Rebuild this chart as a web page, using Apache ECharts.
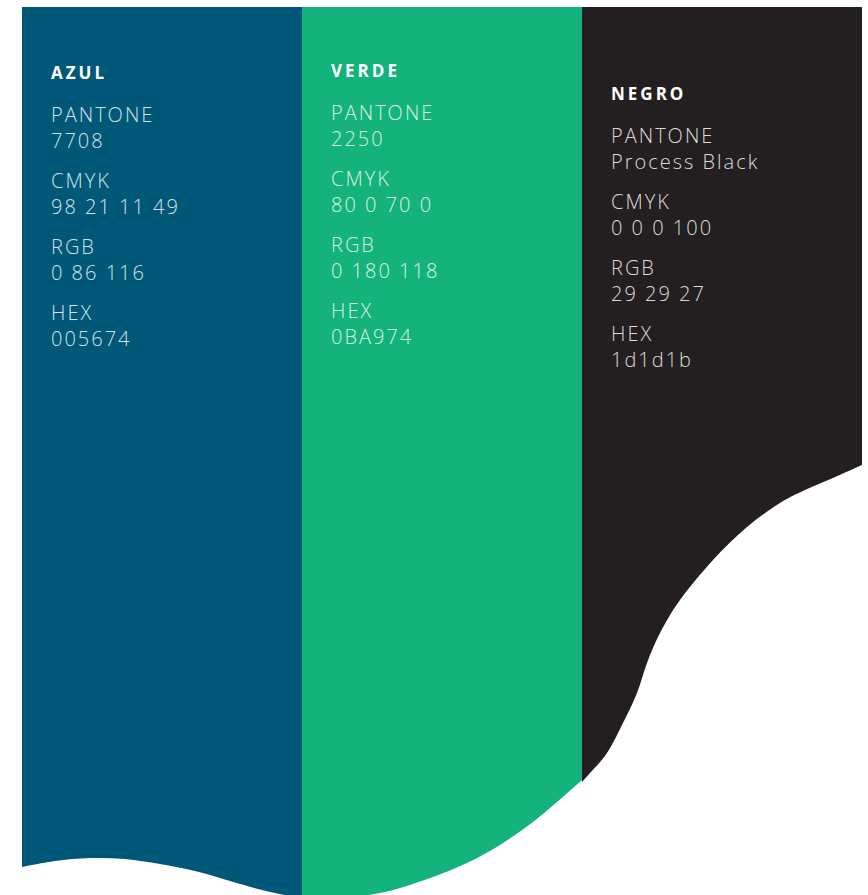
<!DOCTYPE html>
<html>
<head>
<meta charset="utf-8">
<script src="https://cdn.jsdelivr.net/npm/echarts@6/dist/echarts.min.js"></script>
<style>
  html, body { margin: 0; padding: 0; background: #ffffff; }
  #chart { width: 868px; height: 895px; }
  #chart svg text { letter-spacing: 2px; }
  #chart svg text[style*="bold"], #chart svg text[font-weight="bold"] { letter-spacing: 3px; }
</style>
</head>
<body>
<div id="chart"></div>
<script>
// ---- data ----
const swatchNames = ['AZUL', 'VERDE', 'NEGRO'];
const swatchColors = ['#005878', '#13b37b', '#231f20'];
const fieldLabels = ['PANTONE', 'CMYK', 'RGB', 'HEX'];
const pantoneValues = ['7708', '2250', 'Process Black'];
const cmykValues = ['98 21 11 49', '80 0 70 0', '0 0 0 100'];
const rgbValues = ['0 86 116', '0 180 118', '29 29 27'];
const hexValues = ['005674', '0BA974', '1d1d1b'];

// bottom edge of each colour band (x, y)
const azulEdge = [[22, 867], [55, 861], [90, 858], [125, 859], [160, 864], [195, 871], [230, 881], [262, 890], [290, 896], [302, 897]];
const verdeEdge = [[302, 897], [335, 897], [360, 896], [380, 893], [400, 888], [433, 877], [467, 863], [500, 845], [533, 822], [557, 802], [582, 780]];
const negroEdge = [[582, 782], [590, 773], [607, 753], [623, 723], [637, 693], [647, 663], [660, 633], [680, 600], [713, 560], [747, 527], [780, 503], [805, 490], [833, 478], [862, 465]];
const bandEdges = [azulEdge, verdeEdge, negroEdge];
const bandTop = 7;

// ---- layout ----
const textLeft = [51, 331, 611];
const textShift = [0, -2, 21];
const titleY = 72;
const groupY = [114, 180, 246, 312];
const lineGap = 26;

const chart = echarts.init(document.getElementById('chart'), null, { renderer: 'svg' });

function bandPath(pts, topY) {
  const n = pts.length;
  const f = v => v.toFixed(2);
  let d = 'M' + f(pts[0][0]) + ',' + f(topY) + 'L' + f(pts[0][0]) + ',' + f(pts[0][1]);
  for (let i = 0; i < n - 1; i++) {
    const p0 = pts[Math.max(i - 1, 0)], p1 = pts[i], p2 = pts[i + 1], p3 = pts[Math.min(i + 2, n - 1)];
    const c1x = p1[0] + (p2[0] - p0[0]) / 6, c1y = p1[1] + (p2[1] - p0[1]) / 6;
    const c2x = p2[0] - (p3[0] - p1[0]) / 6, c2y = p2[1] - (p3[1] - p1[1]) / 6;
    d += 'C' + f(c1x) + ',' + f(c1y) + ',' + f(c2x) + ',' + f(c2y) + ',' + f(p2[0]) + ',' + f(p2[1]);
  }
  d += 'L' + f(pts[n - 1][0]) + ',' + f(topY) + 'Z';
  return d;
}

const graphics = [];
swatchNames.forEach((name, i) => {
  const x = textLeft[i];
  const dy = textShift[i];
  graphics.push({
    type: 'text', z: 10,
    x: x, y: titleY + dy,
    style: { text: name, fill: '#ffffff', font: 'bold 17px "Open Sans"', verticalAlign: 'middle', align: 'left' }
  });
  const vals = [pantoneValues[i], cmykValues[i], rgbValues[i], hexValues[i]];
  fieldLabels.forEach((lab, k) => {
    graphics.push({
      type: 'text', z: 10,
      x: x, y: groupY[k] + dy,
      style: { text: lab, fill: 'rgba(255,255,255,0.85)', font: '300 20px "Open Sans"', verticalAlign: 'middle', align: 'left' }
    });
    graphics.push({
      type: 'text', z: 10,
      x: x, y: groupY[k] + lineGap + dy,
      style: { text: vals[k], fill: 'rgba(255,255,255,0.85)', font: '300 20px "Open Sans"', verticalAlign: 'middle', align: 'left' }
    });
  });
});

chart.setOption({
  animation: false,
  backgroundColor: '#ffffff',
  grid: { left: 0, right: 0, top: 0, bottom: 0, containLabel: false },
  xAxis: { type: 'value', min: 0, max: 868, show: false },
  yAxis: { type: 'value', min: 0, max: 895, inverse: true, show: false },
  series: [{
    type: 'custom',
    silent: true,
    clip: true,
    data: bandEdges.map(e => [e[0][0], e[0][1]]),
    renderItem: function (params, api) {
      const i = params.dataIndex;
      const pts = bandEdges[i].map(p => api.coord(p));
      const topY = api.coord([0, bandTop])[1];
      return {
        type: 'path',
        shape: { pathData: bandPath(pts, topY) },
        style: { fill: swatchColors[i], stroke: null }
      };
    },
    z: 2
  }],
  graphic: graphics
});
</script>
</body>
</html>
